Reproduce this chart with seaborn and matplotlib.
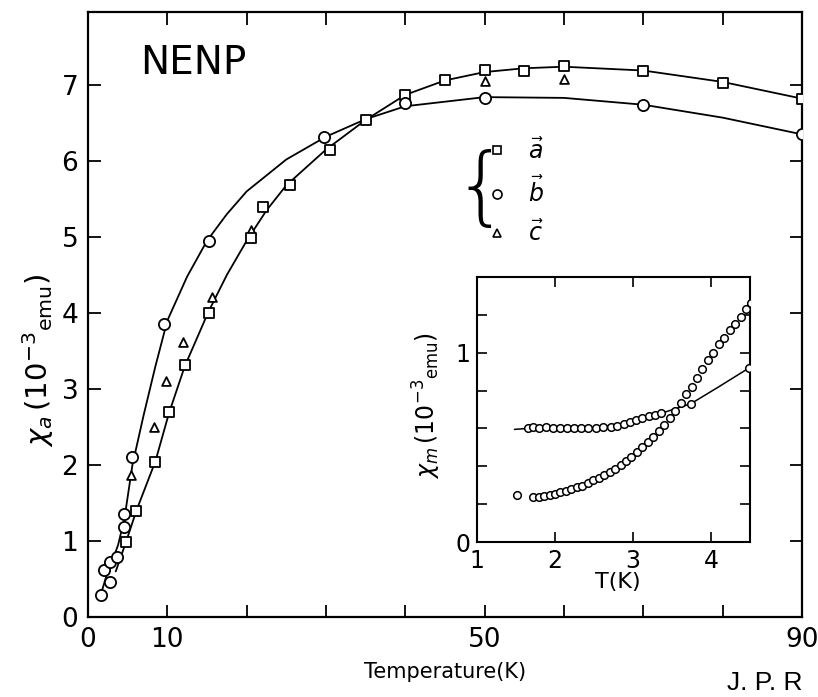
import matplotlib
matplotlib.use("Agg")
import matplotlib.pyplot as plt
import seaborn as sns
from matplotlib.lines import Line2D

# ---------------- data ----------------
# main panel: chi vs temperature, three field directions
a_T = [4.8, 6.1, 8.5, 10.2, 12.2, 15.2, 20.5, 22.0, 25.5, 30.5, 35.0, 40.0, 45.0,
       50.0, 55.0, 60.0, 70.0, 80.0, 90.0]
a_chi = [0.99, 1.39, 2.04, 2.70, 3.32, 4.00, 4.98, 5.40, 5.68, 6.14, 6.54, 6.87, 7.07,
         7.20, 7.19, 7.25, 7.18, 7.03, 6.82]
b_T = [1.7, 2.0, 2.8, 2.8, 3.7, 4.6, 4.6, 5.6, 9.6, 15.2, 29.8, 40.0, 50.0, 70.0, 90.0]
b_chi = [0.29, 0.62, 0.46, 0.73, 0.79, 1.19, 1.36, 2.11, 3.86, 4.95, 6.32, 6.76, 6.83,
         6.73, 6.35]
c_T = [5.4, 8.3, 9.8, 12.0, 15.6, 20.6, 50.0, 60.0]
c_chi = [1.87, 2.50, 3.10, 3.62, 4.21, 5.09, 7.05, 7.08]

# hand-drawn guide curves
a_line_T = [3.5, 4.8, 6.1, 8.5, 10.2, 12.2, 15.2, 17.5, 20.0, 22.5, 25.0, 30.0, 35.0,
            40.0, 45.0, 50.0, 55.0, 60.0, 70.0, 80.0, 90.0]
a_line_chi = [0.60, 0.99, 1.40, 2.05, 2.68, 3.30, 4.02, 4.50, 4.95, 5.35, 5.68, 6.15,
              6.54, 6.87, 7.06, 7.17, 7.22, 7.24, 7.19, 7.04, 6.82]
b_line_T = [1.4, 2.2, 3.0, 3.8, 4.6, 5.6, 7.0, 8.5, 10.0, 12.5, 15.0, 17.5, 20.0,
            25.0, 30.0, 35.0, 40.0, 50.0, 60.0, 70.0, 80.0, 90.0]
b_line_chi = [0.22, 0.50, 0.72, 0.95, 1.30, 2.00, 2.65, 3.30, 3.90, 4.48, 4.95, 5.30,
              5.60, 6.02, 6.32, 6.55, 6.72, 6.84, 6.83, 6.74, 6.57, 6.35]

# inset: chi_m vs T (K)
ins1_T = [1.65, 1.72, 1.80, 1.88, 1.97, 2.06, 2.15, 2.24, 2.33, 2.42, 2.52, 2.62, 2.72,
          2.80, 2.88, 2.96, 3.04, 3.12, 3.20, 3.28, 3.36, 3.74, 4.49]
ins1_chi = [0.600, 0.605, 0.600, 0.605, 0.600, 0.600, 0.600, 0.600, 0.600, 0.600,
            0.600, 0.605, 0.610, 0.615, 0.625, 0.635, 0.645, 0.655, 0.665, 0.670,
            0.680, 0.730, 0.920]
ins1_line_T = [1.48, 1.65, 2.0, 2.5, 2.9, 3.2, 3.4, 3.74, 4.1, 4.49]
ins1_line_chi = [0.595, 0.600, 0.600, 0.602, 0.625, 0.662, 0.685, 0.730, 0.820, 0.920]
ins2_T = [1.51, 1.72, 1.79, 1.86, 1.93, 2.00, 2.07, 2.14, 2.21, 2.28, 2.35, 2.42, 2.49,
          2.56, 2.63, 2.70, 2.77, 2.84, 2.91, 2.98, 3.05, 3.12, 3.19, 3.26, 3.33,
          3.40, 3.47, 3.54, 3.61, 3.68, 3.75, 3.82, 3.89, 3.96, 4.03, 4.10, 4.17,
          4.24, 4.31, 4.38, 4.45, 4.51]
ins2_chi = [0.247, 0.238, 0.240, 0.243, 0.247, 0.252, 0.262, 0.270, 0.278, 0.288,
            0.298, 0.310, 0.325, 0.340, 0.355, 0.370, 0.388, 0.408, 0.428, 0.450,
            0.475, 0.500, 0.527, 0.555, 0.585, 0.620, 0.655, 0.690, 0.735, 0.780,
            0.820, 0.865, 0.915, 0.960, 1.000, 1.045, 1.080, 1.120, 1.150, 1.190,
            1.230, 1.265]

# ticks and labels
main_xticks = [0, 10, 50, 90]
main_xtick_labels = ["0", "10", "50", "90"]
main_xminor = [20, 30, 40, 60, 70, 80]
main_yticks = [0, 1, 2, 3, 4, 5, 6, 7]
ins_xticks = [1, 2, 3, 4]
ins_yticks = [0, 0.2, 0.4, 0.6, 0.8, 1.0, 1.2]
ins_ytick_labels = ["0", "", "", "", "", "1", ""]
legend_labels = [r"$\vec{a}$", r"$\vec{b}$", r"$\vec{c}$"]

# ---------------- figure ----------------
sns.set_style("ticks")
plt.rcParams["font.family"] = ["DejaVu Sans"]
plt.rcParams["mathtext.fontset"] = "dejavusans"
plt.rcParams["text.color"] = "black"

W, H = 818, 697
fig = plt.figure(figsize=(W / 100, H / 100), dpi=100)
fig.patch.set_facecolor("white")


def fx(px):
    return px / W


def fy(py):
    return 1 - py / H


ax = fig.add_axes([fx(88), fy(617), fx(802) - fx(88), fy(12) - fy(617)])
ax.set_facecolor("white")

lw = 1.3
sns.lineplot(x=a_line_T, y=a_line_chi, ax=ax, color="black", lw=lw, sort=False,
             estimator=None)
sns.lineplot(x=b_line_T, y=b_line_chi, ax=ax, color="black", lw=lw, sort=False,
             estimator=None)
kw = dict(ax=ax, facecolor="white", edgecolor="black", linewidth=1.3, zorder=3)
sns.scatterplot(x=c_T, y=c_chi, marker="^", s=40, **kw)
sns.scatterplot(x=a_T, y=a_chi, marker="s", s=55, **kw)
sns.scatterplot(x=b_T, y=b_chi, marker="o", s=65, **kw)

ax.set_xlim(0, 90)
ax.set_ylim(0, 7.96)
ax.set_xticks(main_xticks)
ax.set_xticklabels(main_xtick_labels)
ax.set_xticks(main_xminor, minor=True)
ax.set_yticks(main_yticks)
ax.set_yticklabels([str(v) for v in main_yticks])
ax.tick_params(which="both", direction="in", length=9, width=1.3, top=True,
               right=True, labelsize=19, pad=7, colors="black")
for sp in ax.spines.values():
    sp.set_visible(True)
    sp.set_linewidth(1.6)
    sp.set_color("black")
ax.set_xlabel("")
ax.set_ylabel("")

fig.text(fx(38), fy(360), r"$\chi_a\,(10^{-3}{}_{\mathrm{emu}})$", rotation=90,
         ha="center", va="center", fontsize=21, color="black")
fig.text(fx(445), fy(672), "Temperature(K)", ha="center", va="center", fontsize=15,
         color="black")
fig.text(fx(140), fy(63), "NENP", ha="left", va="center", fontsize=28, color="black")
fig.text(fx(727), fy(695), "J. P. R", ha="left", va="bottom", fontsize=19,
         family=["Liberation Sans"], color="black")

# legend with brace
handles = [Line2D([], [], ls="none", marker=m, markersize=ms, markerfacecolor="white",
                  markeredgecolor="black", markeredgewidth=1.2)
           for m, ms in zip(["s", "o", "^"], [6, 6.5, 6])]
leg = ax.legend(handles, legend_labels, loc="upper left",
                bbox_to_anchor=(fx(488), fy(138)), bbox_transform=fig.transFigure,
                frameon=False, fontsize=17, handlelength=0.8, handletextpad=0.9,
                labelspacing=0.55, borderpad=0, borderaxespad=0, labelcolor="black")
fig.text(fx(481), fy(190), "{", ha="center", va="center", fontsize=62,
         fontweight="light", family=["DejaVu Sans"], color="black")

# inset
ins = fig.add_axes([fx(477), fy(542), fx(750) - fx(477), fy(277) - fy(542)])
ins.set_facecolor("white")
sns.lineplot(x=ins1_line_T, y=ins1_line_chi, ax=ins, color="black", lw=1.1,
             sort=False, estimator=None)
kw2 = dict(ax=ins, facecolor="white", edgecolor="black", linewidth=1.1, zorder=3)
sns.scatterplot(x=ins1_T, y=ins1_chi, marker="o", s=30, **kw2)
sns.scatterplot(x=ins2_T, y=ins2_chi, marker="o", s=30, **kw2)
ins.set_xlim(1, 4.5)
ins.set_ylim(0, 1.4)
ins.set_xticks(ins_xticks)
ins.set_xticklabels([str(v) for v in ins_xticks])
ins.set_yticks(ins_yticks)
ins.set_yticklabels(ins_ytick_labels)
ins.tick_params(direction="in", length=7, width=1.2, top=True, right=True,
                labelsize=17, pad=5, colors="black")
for sp in ins.spines.values():
    sp.set_visible(True)
    sp.set_linewidth(1.5)
    sp.set_color("black")
ins.set_xlabel("")
ins.set_ylabel("")
fig.text(fx(618), fy(582), "T(K)", ha="center", va="center", fontsize=16,
         color="black")
fig.text(fx(427), fy(405), r"$\chi_m\,(10^{-3}{}_{\mathrm{emu}})$", rotation=90,
         ha="center", va="center", fontsize=17, color="black")

fig.savefig("out.png", dpi=100, facecolor="white")
